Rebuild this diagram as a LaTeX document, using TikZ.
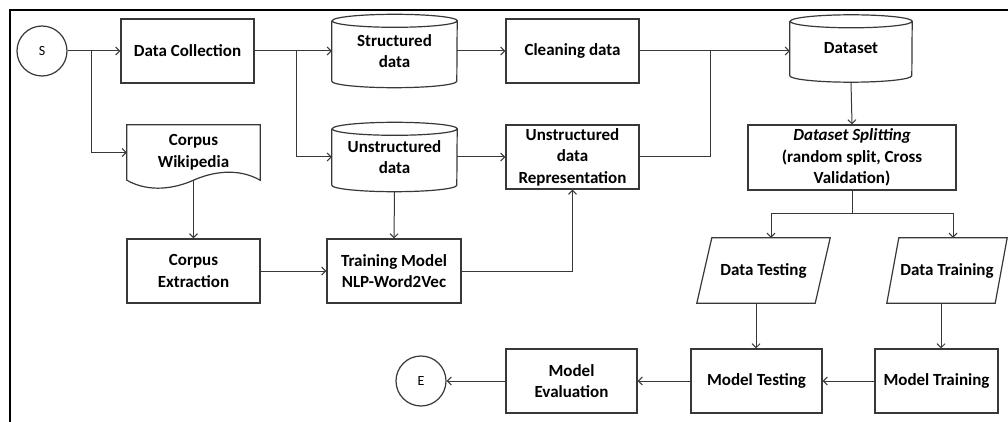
\documentclass[tikz,border=0pt]{standalone}
\usepackage{fontspec}
\setmainfont{Carlito}
\usetikzlibrary{arrows.meta,calc}
\definecolor{linec}{rgb}{0.22,0.22,0.22}
\newcommand\cylshape[2]{\draw[box] (#1.north west) -- (#1.south west) arc[start angle=180,end angle=360,x radius=#2pt,y radius=6.5pt] -- (#1.north east) arc[start angle=0,end angle=360,x radius=#2pt,y radius=6.5pt];}
\newcommand\parashape[2]{\draw[box] (#1.south west) -- ($(#1.north west)+(#2,0)$) -- (#1.north east) -- ($(#1.south east)-(#2,0)$) -- cycle;}
\begin{document}
\begin{tikzpicture}[x=1pt,y=-1pt,
  every node/.style={font=\fontsize{17}{21.5}\selectfont\bfseries, align=center, inner sep=0pt},
  box/.style={draw=linec, line width=1.2pt},
  rectbox/.style={box, rectangle, minimum width=133pt, minimum height=64pt},
  shapebox/.style={rectangle, draw=none},
  conn/.style={draw=linec, line width=1pt, -{Straight Barb[length=4pt,width=8pt]}},
  plain/.style={draw=linec, line width=1pt},
  term/.style={circle, box, minimum size=50pt, font=\fontsize{14}{16}\selectfont}]
\useasboundingbox (0,0) rectangle (1008,422);
\fill[white] (0,0) rectangle (1008,422);
\draw[line width=2pt, black] (10,422) -- (10,10) -- (1008,10);

% nodes
\node[term] (S) at (42,51) {S};
\node[rectbox] (dc) at (187.5,51) {Data Collection};
\node[shapebox, minimum width=133pt, minimum height=55pt] (cw) at (193.5,152.5) {Corpus\\Wikipedia};
\node[shapebox, minimum width=125pt, minimum height=60pt] (sd) at (394.5,51) {Structured\\data};
\node[shapebox, minimum width=125pt, minimum height=56pt] (ud) at (394.5,157) {Unstructured\\data};
\node[rectbox] (clean) at (572.5,51) {Cleaning data};
\node[rectbox] (ur) at (572.5,157) {Unstructured\\data\\Representation};
\node[shapebox, minimum width=122pt, minimum height=54pt] (ds) at (851,48.5) {Dataset};
\node[rectbox, minimum width=208pt, minimum height=65pt] (split) at (852,157.5) {\textit{Dataset Splitting}\\(random split, Cross\\Validation)};
\node[shapebox, minimum width=133pt, minimum height=65pt] (dt) at (763.5,270.5) {Data Testing};
\node[shapebox, minimum width=120pt, minimum height=65pt] (dtr) at (947,270.5) {Data Training};
\node[rectbox] (ce) at (193.5,271) {Corpus\\Extraction};
\node[rectbox, minimum width=134pt] (tm) at (394,271) {Training Model\\NLP-Word2Vec};
\node[rectbox, minimum width=131pt] (me) at (571.5,381) {Model\\Evaluation};
\node[rectbox, minimum width=131pt] (mt) at (756.5,381) {Model Testing};
\node[rectbox, minimum width=123pt] (mtr) at (936.5,381) {Model Training};
\node[term] (E) at (421,381) {E};

% shapes
\cylshape{sd}{62.5}
\cylshape{ud}{62.5}
\cylshape{ds}{61}
\draw[box] (cw.south west) -- (cw.north west) -- (cw.north east) -- (cw.south east)
  .. controls +(-23,-13) and +(18,-8) .. (cw.south)
  .. controls +(-18,8) and +(23,13) .. (cw.south west) -- cycle;
\parashape{dt}{15}
\parashape{dtr}{12}

% connectors
\coordinate (b1) at (91,51);
\coordinate (b2) at (296,51);
\coordinate (j1) at (710,51);
\coordinate (j2) at ($(split.south)+(0,23)$);
\coordinate (dttop) at ($(dt.north)+(7.5,0)$);
\coordinate (dtbot) at ($(dt.south)+(-7.5,0)$);
\coordinate (dtrtop) at ($(dtr.north)+(6,0)$);
\coordinate (dtrbot) at ($(dtr.south)+(-6,0)$);

\draw[conn] (S) -- (dc);
\draw[conn] (b1) |- (cw.west);
\draw[conn] (dc) -- (sd);
\draw[conn] (b2) |- (ud.west);
\draw[conn] (sd) -- (clean);
\draw[conn] (ud) -- (ur);
\draw[plain] (clean.east) -- (j1);
\draw[plain] (ur.east) -| (j1);
\draw[conn] (j1) -- (j1 -| ds.west);
\draw[conn] ($(ds.south)+(0,6.5)$) -- (split.north);
\draw[plain] (split.south) -- (j2);
\draw[conn] (j2) -| (dttop);
\draw[conn] (j2) -| (dtrtop);
\draw[conn] (dtbot) -- (dtbot |- mt.north);
\draw[conn] (dtrbot) -- (dtrbot |- mtr.north);
\draw[conn] (mtr) -- (mt);
\draw[conn] (mt) -- (me);
\draw[conn] (me) -- (E);
\draw[conn] (cw.south) -- (ce.north);
\draw[conn] ($(ud.south)+(0,6.5)$) -- (tm.north);
\draw[conn] (ce) -- (tm);
\draw[conn] (tm.east) -| (ur.south);
\end{tikzpicture}
\end{document}
